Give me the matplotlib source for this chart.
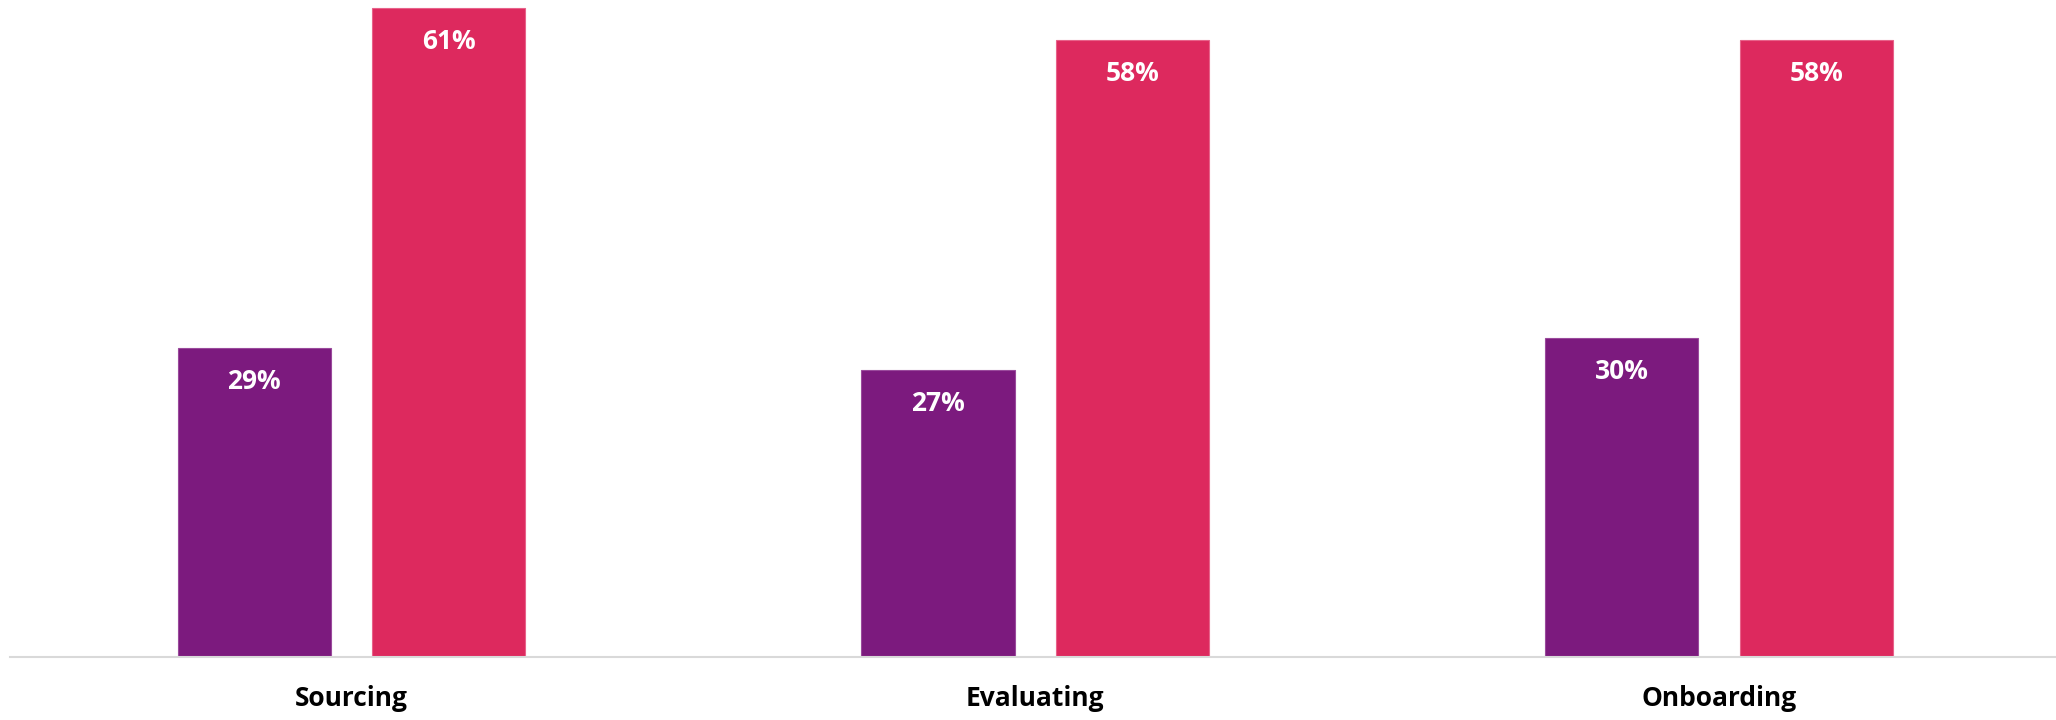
import numpy as np
import matplotlib.pyplot as plt

categories = ['Sourcing', 'Evaluating', 'Onboarding']
series_a = [29, 27, 30]
series_b = [61, 58, 58]

purple = '#7C1A7E'
crimson = '#DD295E'

plt.rcParams['font.family'] = ['Open Sans', 'DejaVu Sans']

fig = plt.figure(figsize=(20.56, 7.2), dpi=100)
# the axis runs a little past the right edge of the canvas
ax = fig.add_axes([9.6 / 2056, 1 - 657 / 720, 2051.25 / 2056, 657 / 720])

x = np.arange(len(categories))
width = 0.224
offset = 0.1422

bars_a = ax.bar(x - offset, series_a, width, color=purple, edgecolor='#9A4A9C', linewidth=0.8)
bars_b = ax.bar(x + offset, series_b, width, color=crimson, edgecolor='#E8628A', linewidth=0.8)

for bars, vals in [(bars_a, series_a), (bars_b, series_b)]:
    for b, v in zip(bars, vals):
        ax.annotate(f'{v}%', (b.get_x() + b.get_width() / 2, v),
                    xytext=(0, -24), textcoords='offset points',
                    ha='center', va='center', color='white',
                    fontsize=19, fontweight='bold')

ax.set_xlim(-0.5, 2.5)
ax.set_ylim(0, 61.75)
ax.set_xticks(x)
ax.set_xticklabels(categories, fontsize=19, fontweight='bold')
ax.tick_params(axis='x', length=0, pad=20)
ax.set_yticks([])
for side in ['top', 'right', 'left']:
    ax.spines[side].set_visible(False)
ax.spines['bottom'].set_color('#D9D9D9')
ax.spines['bottom'].set_linewidth(1.5)

fig.savefig('out.png', dpi=100)
